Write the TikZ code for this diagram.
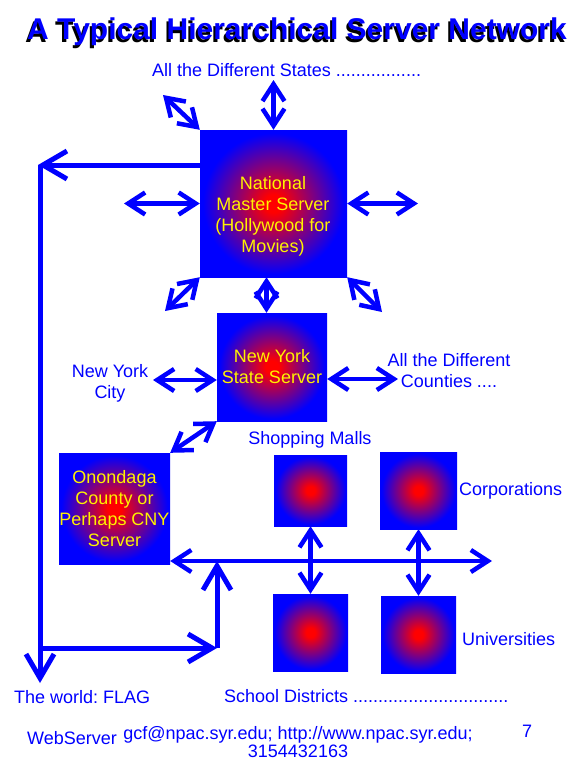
\documentclass[tikz,border=0pt]{standalone}
\usepackage{fontspec}
\setmainfont{Liberation Sans}
\usepackage{xcolor}
\usetikzlibrary{arrows.meta}
\pgfdeclareradialshading{srvglow}{\pgfpoint{0bp}{0bp}}{color(0bp)=(red); color(3bp)=(red); color(24bp)=(blue); color(50bp)=(blue)}
\newcommand{\labelfont}{\fontsize{18}{21}\selectfont}
\newcommand{\headfont}{\fontsize{30}{36}\bfseries\selectfont}

\begin{document}
\frenchspacing
\begin{tikzpicture}[x=1pt, y=-1pt,
  server/.style={shading=srvglow, inner sep=0pt, align=center, text=yellow, font=\labelfont},
  srvtext/.style={inner sep=0pt, align=center, text=yellow, font=\labelfont},
  tag/.style={text=blue, align=center, inner sep=0pt, font=\labelfont},
  headline/.style={font=\headfont, anchor=base, inner sep=0pt},
  link/.style={draw=blue, line width=4.5pt, {Straight Barb[length=17pt, width=22pt]}-{Straight Barb[length=17pt, width=22pt]}},
  feed/.style={draw=blue, line width=5pt, -{Straight Barb[length=24pt, width=28pt]}}
]
  \useasboundingbox (0,0) rectangle (572,763);

  \node[headline, text=black] (titleshade) at (295,42) {A Typical Hierarchical Server Network};
  \node[headline, text=blue] (title) at (297,39) {A Typical Hierarchical Server Network};

  \node[server, minimum width=147pt, minimum height=147pt] (national) at (273.5,203.5) {};
  \node[srvtext] (nationaltext) at (273,216) {National\\Master Server\\(Hollywood for\\Movies)};
  \node[server, minimum width=110pt, minimum height=108pt] (nystate) at (272,367) {New York\\State Server};
  \node[server, minimum width=111pt, minimum height=111pt] (onondaga) at (114.5,508.5) {Onondaga\\County or\\Perhaps CNY\\Server};
  \node[server, minimum width=73pt, minimum height=71pt] (malls) at (310.5,490.5) {};
  \node[server, minimum width=77pt, minimum height=77pt] (corporations) at (418.5,490.5) {};
  \node[server, minimum width=75pt, minimum height=77pt] (schools) at (310.5,632.5) {};
  \node[server, minimum width=75pt, minimum height=77pt] (universities) at (418.5,634.5) {};

  \node[tag, anchor=base west] (states) at (152,76) {All the Different States .................};
  \node[tag] (nycity) at (110,383.5) {New York\\City};
  \node[tag] (counties) at (449,370.5) {All the Different\\Counties ....};
  \node[tag, anchor=base] (mallstag) at (310,444) {Shopping Malls};
  \node[tag, anchor=base west] (corptag) at (459,495) {Corporations};
  \node[tag, anchor=base west] (univtag) at (462,645) {Universities};
  \node[tag, anchor=base west] (schooltag) at (224,702) {School Districts ...............................};
  \node[tag, anchor=base west] (worldtag) at (14,703) {The world: FLAG};
  \node[tag, anchor=base west] (webtag) at (27,744) {WebServer};
  \node[tag, anchor=base, font=\fontsize{18}{18}\selectfont] (contact) at (298,757) {gcf@npac.syr.edu; http://www.npac.syr.edu;\\3154432163};
  \node[tag, anchor=base] (pagenum) at (527,737) {7};

  \coordinate (statesend) at (273.5,80);
  \coordinate (nwend) at (163,95);
  \coordinate (westend) at (124,203.5);
  \coordinate (eastend) at (418,203.5);
  \coordinate (swend) at (165,311);
  \coordinate (seend) at (382,312);
  \coordinate (nycend) at (153,380);
  \coordinate (countiesend) at (398,379);
  \coordinate (busend) at (492,561);
  \coordinate (worldtop) at (38,165);
  \coordinate (worldbend) at (40,648);
  \coordinate (worldend) at (40,683);
  \coordinate (cornerlow) at (217,648);

  \draw[link] (national.north) -- (statesend);
  \draw[link] (national.north west) -- (nwend);
  \draw[link] (national.west) -- (westend);
  \draw[link] (national.east) -- (eastend);
  \draw[link] (national.south west) -- (swend);
  \draw[link] (national.south east) -- (seend);
  \draw[link] ([xshift=-7pt]national.south) -- ([xshift=-7pt]national.south |- nystate.north);

  \draw[link] (nystate.west |- nycend) -- (nycend);
  \draw[link] (nystate.east |- countiesend) -- (countiesend);
  \draw[link] (nystate.south west) -- (onondaga.north east);

  \draw[link] (onondaga.east |- busend) -- (busend);
  \draw[link] (malls.south) -- (schools.north);
  \draw[link] (corporations.south) -- (universities.north);

  \draw[feed] (national.west |- worldtop) -- (worldtop);
  \draw[feed] (worldtop -| worldbend) -- (worldend);
  \draw[feed] (worldbend) -- (cornerlow);
  \draw[feed] (cornerlow) -- (cornerlow |- busend);
\end{tikzpicture}
\end{document}
